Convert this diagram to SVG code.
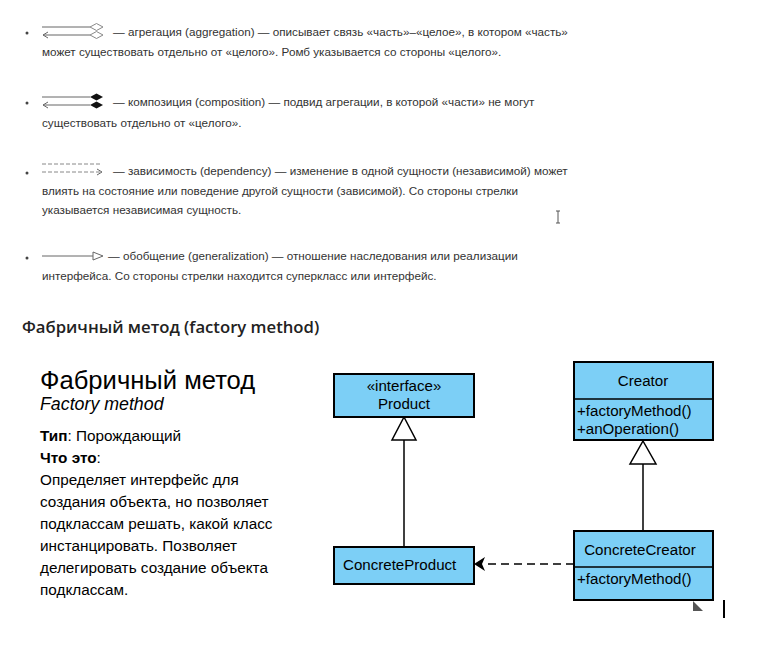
<svg xmlns="http://www.w3.org/2000/svg" width="763" height="654" viewBox="0 0 763 654">
<style>
.t{font-family:"Liberation Sans",Arial,sans-serif;font-size:11.7px;fill:#333}
.ic{stroke:#666;stroke-width:1;fill:none}
.icd{stroke:#888;stroke-width:1;fill:none;stroke-dasharray:4 2}
.h{font-family:"Open Sans","Noto Sans",sans-serif;font-weight:600;font-size:16.7px;fill:#222}
.p{font-family:"Liberation Sans",Arial,sans-serif;font-size:15.3px;fill:#000}
.d{font-family:"Liberation Sans",Arial,sans-serif;font-size:15.1px;fill:#000}
.box{fill:#7ccff6;stroke:#000;stroke-width:2}
.ln{stroke:#000;stroke-width:1.5;fill:none}
.c{text-anchor:middle}
</style>
<rect width="763" height="654" fill="#fff"/>
<g id="legend">
<circle cx="27" cy="33" r="1.5" fill="#444"/>
<line class="ic" x1="42" y1="27" x2="90" y2="27"/>
<polygon points="90,27 96.5,23.5 103,27 96.5,30.5" fill="#fff" stroke="#888"/>
<line class="ic" x1="43" y1="35" x2="90" y2="35"/>
<polyline class="ic" points="48,32 43,35 48,38"/>
<polygon points="90,35 96.5,31.5 103,35 96.5,38.5" fill="#fff" stroke="#888"/>
<text class="t" x="113" y="36">— агрегация (aggregation) — описывает связь «часть»–«целое», в котором «часть»</text>
<text class="t" x="42" y="56">может существовать отдельно от «целого». Ромб указывается со стороны «целого».</text>

<circle cx="27" cy="103" r="1.5" fill="#444"/>
<line class="ic" x1="42" y1="97" x2="90" y2="97"/>
<polygon points="90,97 96.5,93.5 103,97 96.5,100.5" fill="#111"/>
<line class="ic" x1="43" y1="105" x2="90" y2="105"/>
<polyline class="ic" points="48,102 43,105 48,108"/>
<polygon points="90,105 96.5,101.5 103,105 96.5,108.5" fill="#111"/>
<text class="t" x="113" y="106">— композиция (composition) — подвид агрегации, в которой «части» не могут</text>
<text class="t" x="42" y="127">существовать отдельно от «целого».</text>

<circle cx="27" cy="173" r="1.5" fill="#444"/>
<line class="icd" x1="42" y1="164" x2="100" y2="164"/>
<line class="icd" x1="42" y1="172" x2="100" y2="172"/>
<polyline class="ic" stroke="#888" points="97,169 102,172 97,175"/>
<text class="t" x="113" y="175">— зависимость (dependency) — изменение в одной сущности (независимой) может</text>
<text class="t" x="42" y="195">влиять на состояние или поведение другой сущности (зависимой). Со стороны стрелки</text>
<text class="t" x="42" y="214">указывается независимая сущность.</text>

<circle cx="27" cy="258" r="1.5" fill="#444"/>
<line class="ic" x1="42" y1="256" x2="93" y2="256"/>
<polygon points="93,252 103,256 93,260" fill="#fff" stroke="#666"/>
<text class="t" x="108" y="260">— обобщение (generalization) — отношение наследования или реализации</text>
<text class="t" x="42" y="280">интерфейса. Со стороны стрелки находится суперкласс или интерфейс.</text>
</g>
<g id="cursor1" stroke="#555" stroke-width="1">
<line x1="558" y1="211" x2="558" y2="223"/>
<line x1="556" y1="211" x2="560" y2="211"/>
<line x1="556" y1="223" x2="560" y2="223"/>
</g>
<text class="h" x="22" y="333">Фабричный метод (factory method)</text>
<g id="description">
<text class="p" x="40" y="389" style="font-size:25.6px">Фабричный метод</text>
<text class="p" x="40" y="410" style="font-size:17.8px;font-style:italic">Factory method</text>
<text class="p" x="40" y="441"><tspan font-weight="bold">Тип</tspan>: Порождающий</text>
<text class="p" x="40" y="463"><tspan font-weight="bold">Что это</tspan>:</text>
<text class="p" x="40" y="485">Определяет интерфейс для</text>
<text class="p" x="40" y="507">создания объекта, но позволяет</text>
<text class="p" x="40" y="529">подклассам решать, какой класс</text>
<text class="p" x="40" y="551">инстанцировать. Позволяет</text>
<text class="p" x="40" y="573">делегировать создание объекта</text>
<text class="p" x="40" y="595">подклассам.</text>
</g>
<g id="connectors">
<line class="ln" x1="404" y1="440" x2="404" y2="547"/>
<polygon points="404,417 416,440 392,440" fill="#fff" stroke="#000" stroke-width="1.5"/>
<line class="ln" x1="643" y1="464" x2="643" y2="531"/>
<polygon points="643,441 656,464 630,464" fill="#fff" stroke="#000" stroke-width="1.5"/>
<line class="ln" x1="574" y1="564" x2="484" y2="564" stroke-dasharray="8 5"/>
<polygon points="474,564 485,557 482,564 485,571" fill="#000"/>
</g>
<g id="Product">
<rect class="box" x="334" y="374" width="140" height="43"/>
<text class="d c" x="404" y="391">«interface»</text>
<text class="d c" x="404" y="409">Product</text>
</g>
<g id="ConcreteProduct">
<rect class="box" x="334" y="547" width="140" height="37"/>
<text class="d" x="343" y="570">ConcreteProduct</text>
</g>
<g id="Creator">
<rect class="box" x="574" y="362" width="139" height="78"/>
<line class="ln" stroke-width="2" x1="574" y1="399" x2="713" y2="399"/>
<text class="d c" x="643" y="386">Creator</text>
<text class="d" x="577" y="416">+factoryMethod()</text>
<text class="d" x="577" y="434">+anOperation()</text>
</g>
<g id="ConcreteCreator">
<rect class="box" x="574" y="531" width="139" height="69"/>
<line class="ln" stroke-width="2" x1="574" y1="567" x2="713" y2="567"/>
<text class="d c" x="640" y="555">ConcreteCreator</text>
<text class="d" x="577" y="584">+factoryMethod()</text>
</g>
<g id="cursor2">
<polygon points="693,601 703,611 693,611" fill="#555"/>
<rect x="723" y="600" width="2" height="18" fill="#000"/>
</g>
</svg>
